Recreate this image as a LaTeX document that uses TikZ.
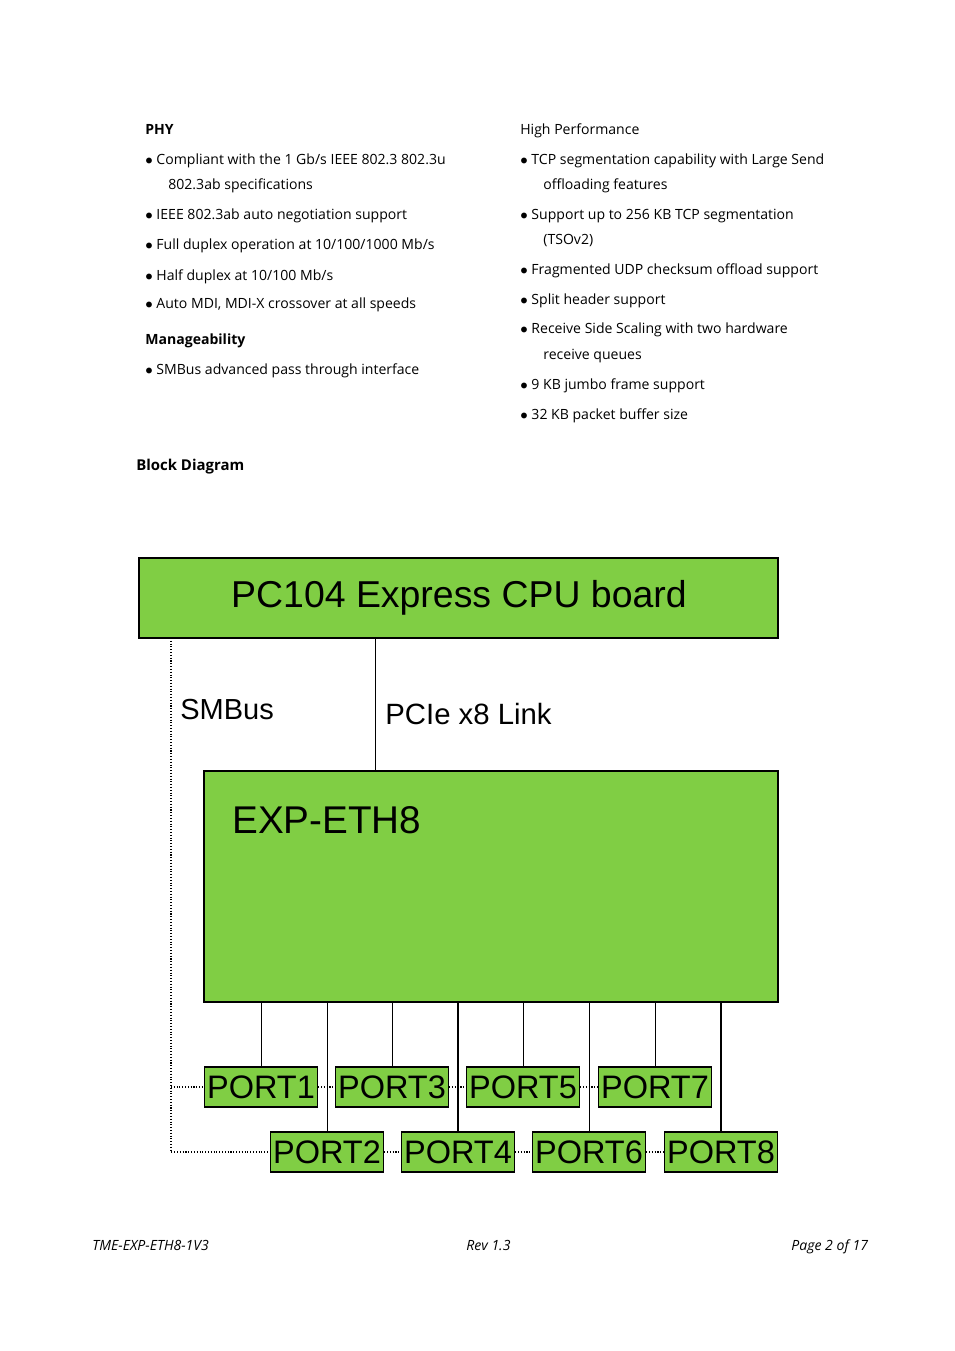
\documentclass[tikz,border=0pt]{standalone}
\usepackage{fontspec}
\setmainfont{Open Sans}
\newfontfamily\arialfont{Liberation Sans}
\usetikzlibrary{positioning}

\tikzset{
  board/.style = {draw, fill = green!50!lime!70!black!80, fill = boardgreen, line width = 0.8pt},
  portbox/.style = {draw, fill = boardgreen, line width = 0.8pt, inner sep = 0pt,
    minimum width = 113\unitpx, minimum height = 40\unitpx, font = \arialfont\fontsize{18.5}{20}\selectfont},
  txt/.style = {anchor = base west, inner sep = 0pt, font = \fontsize{8}{10}\selectfont},
  smdot/.style = {densely dotted, line width = 0.6pt},
  link/.style = {line width = 0.5pt},
  thicklink/.style = {line width = 1.1pt}
}
\definecolor{boardgreen}{RGB}{128,206,68}
\newlength{\unitpx}
\setlength{\unitpx}{0.02cm}

\begin{document}
\begin{tikzpicture}[x = 0.02cm, y = -0.02cm]
  \useasboundingbox (0,0) rectangle (954,1351);
  % feature lists
  \node[txt, font = \bfseries\fontsize{8}{10}\selectfont] at (145,135) {PHY};
  \node[txt] at (145,165) {$\bullet$ Compliant with the 1 Gb/s IEEE 802.3 802.3u};
  \node[txt] at (168,190) {802.3ab specifications};
  \node[txt] at (145,220) {$\bullet$ IEEE 802.3ab auto negotiation support};
  \node[txt] at (145,250) {$\bullet$ Full duplex operation at 10/100/1000 Mb/s};
  \node[txt] at (145,280) {$\bullet$ Half duplex at 10/100 Mb/s};
  \node[txt] at (145,309) {$\bullet$ Auto MDI, MDI-X crossover at all speeds};
  \node[txt, font = \bfseries\fontsize{8}{10}\selectfont] at (145,344) {Manageability};
  \node[txt] at (145,374) {$\bullet$ SMBus advanced pass through interface};
  \node[txt] at (520,135) {High Performance};
  \node[txt] at (520,165) {$\bullet$ TCP segmentation capability with Large Send};
  \node[txt] at (543,190) {offloading features};
  \node[txt] at (520,220) {$\bullet$ Support up to 256 KB TCP segmentation};
  \node[txt] at (543,245) {(TSOv2)};
  \node[txt] at (520,275) {$\bullet$ Fragmented UDP checksum offload support};
  \node[txt] at (520,304) {$\bullet$ Split header support};
  \node[txt] at (520,334) {$\bullet$ Receive Side Scaling with two hardware};
  \node[txt] at (543,359) {receive queues};
  \node[txt] at (520,389) {$\bullet$ 9 KB jumbo frame support};
  \node[txt] at (520,419) {$\bullet$ 32 KB packet buffer size};
  \node[txt, font = \bfseries\fontsize{8.5}{10}\selectfont] at (136,470) {Block Diagram};

  % boards
  \draw[board] (139,558) rectangle (778,638);
  \node[font = \arialfont\fontsize{21.3}{24}\selectfont] (cpu) at (459,598) {PC104 Express CPU board};
  \draw[board] (204,771) rectangle (778,1002);
  \node[anchor = west, inner sep = 0pt, font = \arialfont\fontsize{22}{24}\selectfont] (eth) at (232,820) {EXP-ETH8};
  \node[anchor = west, inner sep = 0pt, font = \arialfont\fontsize{16.5}{18}\selectfont] (smb) at (180,710) {SMBus};
  \node[anchor = west, inner sep = 0pt, font = \arialfont\fontsize{16.7}{18}\selectfont] (pcie) at (385,714) {PCIe x8 Link};
  \draw[link] (375,638) -- (375,771);

  % ports
  \node[portbox] (p1) at (261,1087) {PORT1};
  \node[portbox] (p3) at (392,1087) {PORT3};
  \node[portbox] (p5) at (523,1087) {PORT5};
  \node[portbox] (p7) at (655,1087) {PORT7};
  \node[portbox] (p2) at (327,1152) {PORT2};
  \node[portbox] (p4) at (458,1152) {PORT4};
  \node[portbox] (p6) at (589,1152) {PORT6};
  \node[portbox] (p8) at (721,1152) {PORT8};
  \foreach \p in {p1,p2,p3,p5,p6,p7}
    \draw[link] (\p.north) -- (\p.north |- 0,1002);
  \foreach \p in {p4,p8}
    \draw[thicklink] (\p.north) -- (\p.north |- 0,1002);

  % SMBus wiring
  \draw[smdot] (171,638) -- (171,1152) -- (p2.west);
  \draw[smdot] (171,1087) -- (p1.west);
  \draw[smdot] (p1) -- (p3);
  \draw[smdot] (p3) -- (p5);
  \draw[smdot] (p5) -- (p7);
  \draw[smdot] (p2) -- (p4);
  \draw[smdot] (p4) -- (p6);
  \draw[smdot] (p6) -- (p8);

  % footer
  \node[txt, font = \itshape\fontsize{8}{10}\selectfont] at (92,1250) {TME-EXP-ETH8-1V3};
  \node[txt, font = \itshape\fontsize{8}{10}\selectfont] at (466,1250) {Rev 1.3};
  \node[txt, font = \itshape\fontsize{8}{10}\selectfont] at (791,1250) {Page 2 of 17};
\end{tikzpicture}
\end{document}
